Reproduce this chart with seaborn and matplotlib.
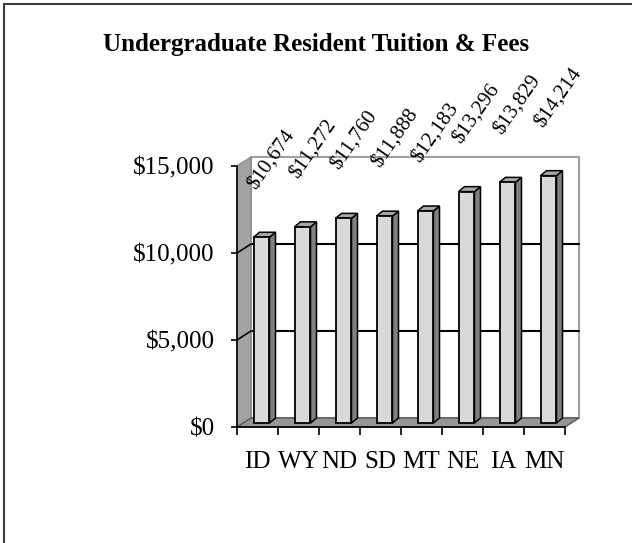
import matplotlib
matplotlib.use("Agg")
import matplotlib.pyplot as plt
from matplotlib.patches import Polygon
from matplotlib.lines import Line2D
import numpy as np
import pandas as pd
import seaborn as sns

# ---- data ----
states = ["ID", "WY", "ND", "SD", "MT", "NE", "IA", "MN"]
tuition = [10674, 11272, 11760, 11888, 12183, 13296, 13829, 14214]
y_ticks = [0, 5000, 10000, 15000]
y_tick_labels = ["$0", "$5,000", "$10,000", "$15,000"]
grid_levels = [5000, 10000]
title = "Undergraduate Resident Tuition & Fees"

sns.set_theme(style="white")
plt.rcParams["font.family"] = ["Liberation Serif", "DejaVu Serif"]

W, H = 632, 543
fig = plt.figure(figsize=(W / 100, H / 100), dpi=100)
fig.patch.set_facecolor("white")

# front plane of the 3-D box (pixels)
ax_l, ax_r, ax_b, ax_t = 237, 565, 427, 166
ax = fig.add_axes([ax_l / W, (H - ax_b) / H, (ax_r - ax_l) / W, (ax_b - ax_t) / H])
ax.set_facecolor("none")

df = pd.DataFrame({"state": states, "tuition": tuition})
sns.barplot(data=df, x="state", y="tuition", ax=ax, color="#D9D9D9",
            saturation=1, width=0.39, edgecolor="black", linewidth=1.3,
            zorder=4)
bars = list(ax.containers[0])

ymax = 15000
ax.set_xlim(-0.5, len(states) - 0.5)
ax.set_ylim(0, ymax)

# pixel -> data conversion
px_x = (ax_r - ax_l) / len(states)
px_y = (ax_b - ax_t) / ymax
def dx(p):
    return p / px_x
def dy(p):
    return p / px_y

wall_dx, wall_dy = dx(14), dy(9)
x0, x1 = -0.5, len(states) - 0.5

# back wall
ax.add_patch(Polygon([(x0 + wall_dx, wall_dy), (x1 + wall_dx, wall_dy),
                      (x1 + wall_dx, ymax + wall_dy), (x0 + wall_dx, ymax + wall_dy)],
                     closed=True, facecolor="white", edgecolor="#A0A0A0",
                     linewidth=1.5, zorder=0.5, clip_on=False))
# side wall
ax.add_patch(Polygon([(x0, 0), (x0 + wall_dx, wall_dy), (x0 + wall_dx, ymax + wall_dy),
                      (x0, ymax)], closed=True, facecolor="#A3A3A3",
                     edgecolor="#8C8C8C", linewidth=1.0, zorder=0.7, clip_on=False))
# grid lines on back wall and side wall
for g in grid_levels:
    ax.plot([x0 + wall_dx, x1 + wall_dx], [g + wall_dy, g + wall_dy],
            color="black", lw=1.5, zorder=0.6, clip_on=False)
    ax.plot([x0, x0 + wall_dx], [g, g + wall_dy], color="black", lw=1.2,
            zorder=0.8, clip_on=False)
# floor
ax.add_patch(Polygon([(x0, 0), (x1, 0), (x1 + wall_dx, wall_dy), (x0 + wall_dx, wall_dy)],
                     closed=True, facecolor="#969696", edgecolor="#555555",
                     linewidth=1.0, zorder=0.9, clip_on=False))

# 3-D bar faces built from the seaborn bars
bar_dx, bar_dy = dx(4), dy(4)
depth_x, depth_y = dx(6), dy(5)
for p in bars:
    p.set_x(p.get_x() + bar_dx)
    p.set_y(p.get_y() + bar_dy)
    p.set_clip_on(False)
    bx, by, bw, bh = p.get_x(), p.get_y(), p.get_width(), p.get_height()
    ax.add_patch(Polygon([(bx + bw, by), (bx + bw + depth_x, by + depth_y),
                          (bx + bw + depth_x, by + bh + depth_y), (bx + bw, by + bh)],
                         closed=True, facecolor="#808080", edgecolor="black",
                         linewidth=1.1, zorder=3.9, clip_on=False))
    ax.add_patch(Polygon([(bx, by + bh), (bx + depth_x, by + bh + depth_y),
                          (bx + bw + depth_x, by + bh + depth_y), (bx + bw, by + bh)],
                         closed=True, facecolor="#A6A6A6", edgecolor="black",
                         linewidth=1.1, zorder=3.9, clip_on=False))

# value labels
for p, v in zip(bars, tuition):
    ax.annotate(f"${v:,}", xy=(p.get_x() + p.get_width() / 2, p.get_y() + p.get_height()),
                xytext=(10, 78), textcoords="offset pixels", rotation=55,
                ha="center", va="center", fontsize=15, color="black",
                annotation_clip=False, zorder=6)

# axes, ticks
ax.set_xlabel("")
ax.set_ylabel("")
ax.set_xticks(np.arange(-0.5, len(states), 1.0))
ax.set_xticklabels([""] * (len(states) + 1))
ax.set_xticks(np.arange(len(states)), minor=True)
ax.set_xticklabels(states, minor=True)
ax.set_yticks(y_ticks)
ax.set_yticklabels(y_tick_labels)
ax.tick_params(axis="x", which="major", length=6, width=1.2, color="black",
               direction="out", bottom=True)
ax.tick_params(axis="x", which="minor", length=0, pad=17.3, labelsize=18,
               labelcolor="black", bottom=True)
ax.tick_params(axis="y", which="major", length=4, width=1.2, color="black",
               direction="out", pad=12, labelsize=18, labelcolor="black", left=True)
for s in ["top", "right"]:
    ax.spines[s].set_visible(False)
for s in ["left", "bottom"]:
    ax.spines[s].set_color("black")
    ax.spines[s].set_linewidth(1.2)
    ax.spines[s].set_zorder(5)
ax.grid(False)

# title
fig.text(316 / W, 1 - 51 / H, title, ha="center", va="baseline",
         fontsize=18, fontweight="bold", color="black")

# outer frame (top and left visible)
fig.add_artist(Line2D([3.5 / W, 3.5 / W], [0, 1 - 3.5 / H], transform=fig.transFigure,
                      color="#3C3C3C", lw=1.5))
fig.add_artist(Line2D([3.5 / W, 1], [1 - 3.5 / H, 1 - 3.5 / H], transform=fig.transFigure,
                      color="#3C3C3C", lw=1.5))

fig.savefig("out.png", dpi=100, facecolor="white")
